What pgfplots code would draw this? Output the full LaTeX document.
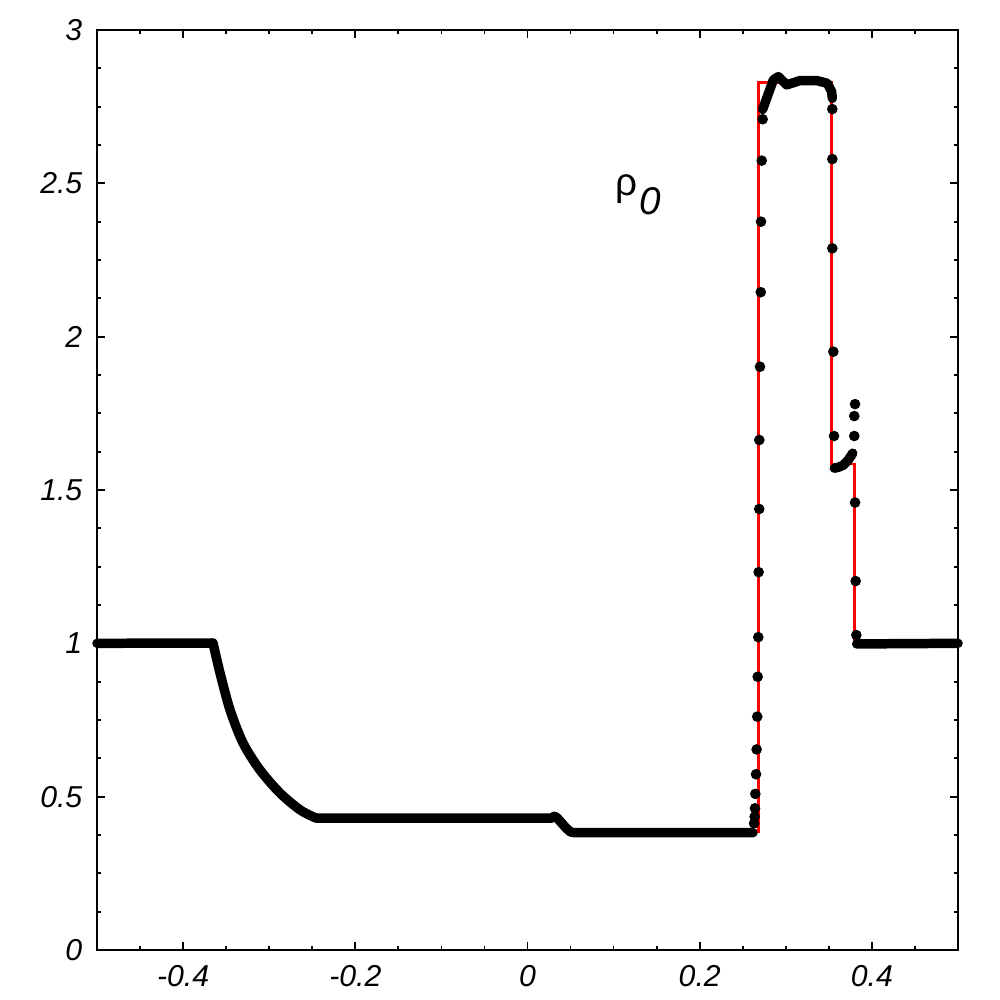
\documentclass[border=0pt]{standalone}
\usepackage{pgfplots}
\pgfplotsset{compat=1.18}
\usepackage{fontspec}
\setmainfont{Liberation Sans}

\begin{document}
\begin{tikzpicture}
\useasboundingbox (-0.97cm,-0.5cm) rectangle (9.03cm,9.5cm);
\begin{axis}[
  at={(0,0)}, anchor=south west,
  scale only axis,
  width=8.61cm, height=9.2cm,
  xmin=-0.5, xmax=0.5, ymin=0, ymax=3,
  clip=false,
  axis line style={line width=0.6pt},
  xtick={-0.4,-0.2,0,0.2,0.4},
  xticklabels={-0.4,-0.2,0,0.2,0.4},
  minor xtick={-0.45,-0.35,-0.3,-0.25,-0.15,-0.1,-0.05,0.05,0.1,0.15,0.25,0.3,0.35,0.45},
  ytick={0,0.5,1,1.5,2,2.5,3},
  yticklabels={0,0.5,1,1.5,2,2.5,3},
  minor y tick num=3,
  major tick length=0.08cm, minor tick length=0.04cm,
  tick style={black, line width=0.5pt},
  ticklabel style={font=\fontsize{8.6}{10}\selectfont\itshape, inner sep=0pt},
  xticklabel style={yshift=-0.15cm},
  yticklabel style={xshift=-0.14cm},
]
% exact solution
\addplot[red, line width=0.8pt, mark=none] coordinates {
  (0.2683,0.3826) (0.2683,2.828) (0.3532,2.828) (0.3532,1.585)
  (0.3800,1.585) (0.3800,1.0) (0.5,1.0)
};
% numerical solution, smooth parts
\addplot[black, line width=2.7pt, line cap=round, line join=round, mark=none] coordinates {
  (-0.5,1.0) (-0.3653,1.001)
};
\addplot[black, line width=2.7pt, line cap=round, line join=round, mark=none, smooth, tension=0.5] coordinates {
  (-0.3653,1.001) (-0.3571,0.903) (-0.3455,0.783) (-0.3304,0.675)
  (-0.3107,0.587) (-0.2875,0.512) (-0.2642,0.457) (-0.2456,0.430)
};
\addplot[black, line width=2.7pt, line cap=round, line join=round, mark=none] coordinates {
  (-0.2456,0.430)
  (0.028,0.430) (0.031,0.436) (0.034,0.432) (0.045,0.397) (0.050,0.385)
  (0.054,0.3826) (0.2619,0.3826)
};
\addplot[black, line width=2.7pt, line cap=round, line join=round, mark=none] coordinates {
  (0.2731,2.741) (0.2855,2.837) (0.2913,2.848) (0.3010,2.821) (0.3165,2.835)
  (0.3359,2.835) (0.3483,2.826) (0.3532,2.799) (0.3540,2.777)
};
\addplot[black, line width=2.7pt, line cap=round, line join=round, mark=none] coordinates {
  (0.3563,1.571) (0.3610,1.574) (0.3668,1.581) (0.3726,1.598) (0.3777,1.620)
};
\addplot[black, line width=2.7pt, line cap=round, line join=round, mark=none] coordinates {
  (0.3823,0.998) (0.5,1.0)
};
% numerical solution, cells in the jumps
\addplot[only marks, mark=*, mark size=1.3pt, black] coordinates {
  (0.2631,0.413) (0.2638,0.435) (0.2642,0.462) (0.2646,0.509) (0.2654,0.573)
  (0.2661,0.654) (0.2668,0.761) (0.2673,0.891) (0.2680,1.020) (0.2684,1.232)
  (0.2691,1.438) (0.2692,1.663) (0.2700,1.902) (0.2709,2.145) (0.2712,2.375)
  (0.2720,2.574) (0.2731,2.709)
  (0.3540,2.742) (0.3540,2.579) (0.3540,2.288) (0.3552,1.951) (0.3560,1.676)
  (0.3795,1.676) (0.3795,1.741) (0.3804,1.780)
  (0.3804,1.459) (0.3811,1.203) (0.3819,1.027)
};
\node[anchor=base west, inner sep=0pt, font=\fontsize{11}{13}\selectfont]
  at (axis cs:0.1016,2.459) {ρ\kern0.6pt\raisebox{-0.48em}{\itshape 0}};
\end{axis}
\end{tikzpicture}
\end{document}
